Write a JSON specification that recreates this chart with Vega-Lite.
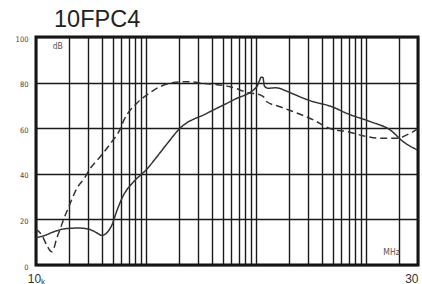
{
  "$schema": "https://vega.github.io/schema/vega-lite/v6.json",
  "autosize": {"type": "none"},
  "width": 382,
  "height": 228,
  "padding": {"left": 36, "top": 37, "right": 4, "bottom": 19},
  "background": "white",
  "title": {
    "text": "10FPC4",
    "anchor": "start",
    "frame": "group",
    "dx": 18,
    "offset": 4,
    "font": "Liberation Sans",
    "fontSize": 23.5,
    "fontWeight": "normal",
    "color": "#222"
  },
  "config": {
    "view": {"stroke": "#111", "strokeWidth": 3},
    "axis": {
      "domain": false,
      "ticks": false,
      "grid": true,
      "gridColor": "#1a1a1a",
      "gridWidth": 1.4,
      "gridOpacity": 1,
      "title": null
    }
  },
  "datasets": {
    "curves": [
      {"f": 0.01, "db": 12, "s": "solid"},
      {"f": 0.01208, "db": 13, "s": "solid"},
      {"f": 0.01437, "db": 14.5, "s": "solid"},
      {"f": 0.01904, "db": 16, "s": "solid"},
      {"f": 0.02413, "db": 16.2, "s": "solid"},
      {"f": 0.02976, "db": 15.8, "s": "solid"},
      {"f": 0.03519, "db": 14.3, "s": "solid"},
      {"f": 0.03966, "db": 13, "s": "solid"},
      {"f": 0.04341, "db": 13.8, "s": "solid"},
      {"f": 0.04891, "db": 17.4, "s": "solid"},
      {"f": 0.05467, "db": 24, "s": "solid"},
      {"f": 0.06238, "db": 30.5, "s": "solid"},
      {"f": 0.07694, "db": 36.4, "s": "solid"},
      {"f": 0.1019, "db": 42, "s": "solid"},
      {"f": 0.1257, "db": 47.4, "s": "solid"},
      {"f": 0.155, "db": 53, "s": "solid"},
      {"f": 0.2049, "db": 60, "s": "solid"},
      {"f": 0.3586, "db": 66.5, "s": "solid"},
      {"f": 0.6266, "db": 72.4, "s": "solid"},
      {"f": 1.0233, "db": 78.2, "s": "solid"},
      {"f": 1.085, "db": 81, "s": "solid"},
      {"f": 1.12, "db": 82.4, "s": "solid"},
      {"f": 1.161, "db": 82.3, "s": "solid"},
      {"f": 1.2, "db": 78.5, "s": "solid"},
      {"f": 1.297, "db": 77.5, "s": "solid"},
      {"f": 1.502, "db": 77.7, "s": "solid"},
      {"f": 1.668, "db": 77.4, "s": "solid"},
      {"f": 1.853, "db": 76.5, "s": "solid"},
      {"f": 3.354, "db": 71.6, "s": "solid"},
      {"f": 4.761, "db": 69.7, "s": "solid"},
      {"f": 6.988, "db": 66.2, "s": "solid"},
      {"f": 11.01, "db": 62.9, "s": "solid"},
      {"f": 16.75, "db": 59.2, "s": "solid"},
      {"f": 22.14, "db": 54, "s": "solid"},
      {"f": 29.5, "db": 50.5, "s": "solid"},
      {"f": 0.01, "db": 15.8, "s": "dash"},
      {"f": 0.01134, "db": 13, "s": "dash"},
      {"f": 0.01259, "db": 8.5, "s": "dash"},
      {"f": 0.0139, "db": 5.8, "s": "dash"},
      {"f": 0.01458, "db": 7.5, "s": "dash"},
      {"f": 0.01543, "db": 11.7, "s": "dash"},
      {"f": 0.01654, "db": 15.5, "s": "dash"},
      {"f": 0.01773, "db": 19.7, "s": "dash"},
      {"f": 0.01969, "db": 25, "s": "dash"},
      {"f": 0.02348, "db": 33.5, "s": "dash"},
      {"f": 0.02795, "db": 38.5, "s": "dash"},
      {"f": 0.03103, "db": 42.2, "s": "dash"},
      {"f": 0.03827, "db": 47.4, "s": "dash"},
      {"f": 0.04891, "db": 54, "s": "dash"},
      {"f": 0.05821, "db": 59.5, "s": "dash"},
      {"f": 0.06238, "db": 63, "s": "dash"},
      {"f": 0.08263, "db": 70.9, "s": "dash"},
      {"f": 0.1019, "db": 74.6, "s": "dash"},
      {"f": 0.1347, "db": 78.2, "s": "dash"},
      {"f": 0.1781, "db": 80, "s": "dash"},
      {"f": 0.2358, "db": 80.4, "s": "dash"},
      {"f": 0.3339, "db": 79.7, "s": "dash"},
      {"f": 0.5847, "db": 78.2, "s": "dash"},
      {"f": 0.8579, "db": 75.6, "s": "dash"},
      {"f": 1.097, "db": 74.6, "s": "dash"},
      {"f": 1.193, "db": 73.5, "s": "dash"},
      {"f": 1.262, "db": 71.6, "s": "dash"},
      {"f": 1.668, "db": 69.4, "s": "dash"},
      {"f": 3.354, "db": 63.6, "s": "dash"},
      {"f": 4.761, "db": 59.8, "s": "dash"},
      {"f": 6.757, "db": 58.5, "s": "dash"},
      {"f": 9.917, "db": 56.5, "s": "dash"},
      {"f": 13.58, "db": 55.6, "s": "dash"},
      {"f": 19.28, "db": 55.6, "s": "dash"},
      {"f": 25.48, "db": 57.8, "s": "dash"},
      {"f": 29.5, "db": 59.6, "s": "dash"}
    ],
    "notes": [
      {"f": 0.0142, "db": 96, "t": "dB"},
      {"f": 14.5, "db": 5.5, "t": "MHz"}
    ]
  },
  "layer": [
    {
      "data": {"name": "curves"},
      "mark": {"type": "line", "interpolate": "monotone", "strokeWidth": 1.5, "color": "#333", "clip": true},
      "encoding": {
        "x": {
          "field": "f",
          "type": "quantitative",
          "scale": {"type": "log", "domain": [0.01, 30], "nice": false},
          "axis": {
            "values": [0.01,0.02,0.03,0.04,0.05,0.06,0.07,0.08,0.09,0.1,0.2,0.3,0.4,0.5,0.6,0.7,0.8,0.9,1,2,3,4,5,6,7,8,9,10,20,30],
            "labelExpr": "datum.value < 0.011 ? '10ₖ' : (datum.value > 25 ? '30' : '')",
            "labelAlign": {"expr": "datum.value > 25 ? 'right' : 'center'"},
            "labelFont": "Liberation Sans",
            "labelFontSize": 12,
            "labelColor": "#333",
            "labelPadding": 8,
            "labelOverlap": false
          }
        },
        "y": {
          "field": "db",
          "type": "quantitative",
          "scale": {"domain": [0, 100], "nice": false},
          "axis": {
            "values": [0,10,20,30,40,50,60,70,80,90,100],
            "labelFont": "Liberation Sans Narrow, DejaVu Sans Condensed, Liberation Sans, sans-serif",
            "labelFontSize": 7.5,
            "labelColor": "#444",
            "labelPadding": 8,
            "labelOffset": 2,
            "labelOverlap": false
          }
        },
        "detail": {"field": "s"},
        "strokeDash": {
          "field": "s",
          "type": "nominal",
          "scale": {"domain": ["solid", "dash"], "range": [[1, 0], [7, 4]]},
          "legend": null
        }
      }
    },
    {
      "data": {"name": "notes"},
      "mark": {"type": "text", "font": "Liberation Sans Narrow, DejaVu Sans Condensed, Liberation Sans, sans-serif", "fontSize": 8.5, "color": "#555", "align": "left", "baseline": "middle"},
      "encoding": {
        "x": {"field": "f", "type": "quantitative"},
        "y": {"field": "db", "type": "quantitative"},
        "text": {"field": "t"}
      }
    }
  ]
}
